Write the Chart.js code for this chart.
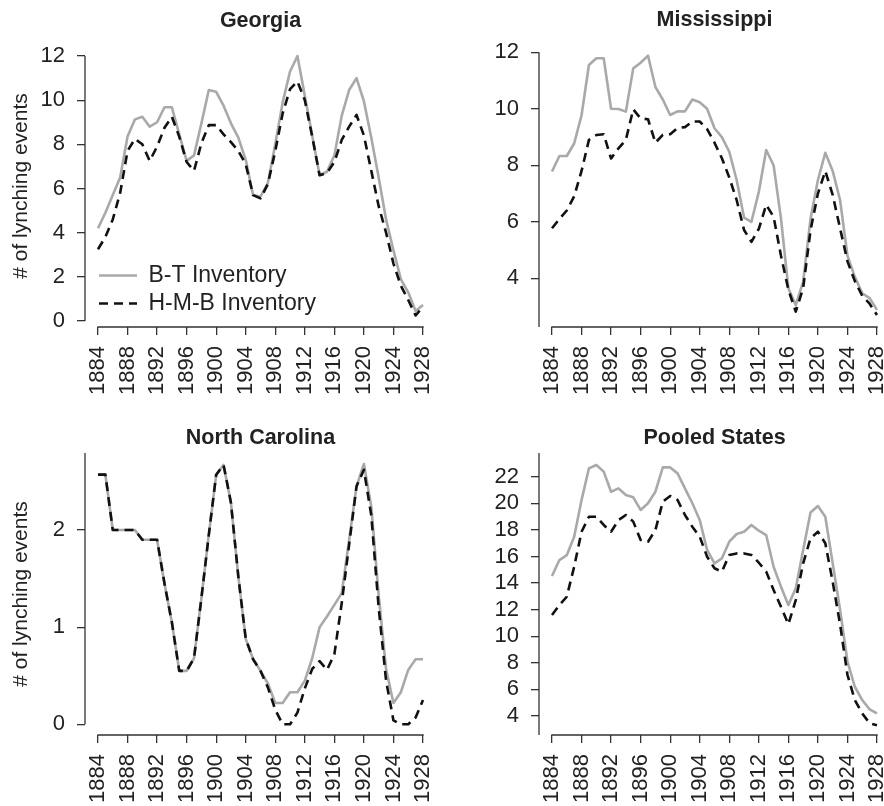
<!DOCTYPE html>
<html><head><meta charset="utf-8">
<script src="https://cdn.jsdelivr.net/npm/chart.js@4.4.1/dist/chart.umd.min.js"></script>
<style>
html,body{margin:0;padding:0;background:#fff;overflow:hidden;width:884px;height:806px}
#wrap{position:relative;width:884px;height:806px;overflow:hidden;background:#fff}
canvas{position:absolute}
</style></head><body><div id="wrap">
<canvas id="ga" width="442" height="403" style="left:0px;top:0px"></canvas>
<canvas id="ms" width="442" height="403" style="left:454px;top:0px"></canvas>
<canvas id="nc" width="442" height="403" style="left:0px;top:408px"></canvas>
<canvas id="ps" width="442" height="403" style="left:454px;top:408px"></canvas>
</div>
<script>
const years = [1884,1885,1886,1887,1888,1889,1890,1891,1892,1893,1894,1895,1896,1897,1898,1899,1900,1901,1902,1903,1904,1905,1906,1907,1908,1909,1910,1911,1912,1913,1914,1915,1916,1917,1918,1919,1920,1921,1922,1923,1924,1925,1926,1927,1928];
const yearTicks = [1884,1888,1892,1896,1900,1904,1908,1912,1916,1920,1924,1928];

const gaBT  = [4.2,4.9,5.7,6.5,8.35,9.13,9.25,8.8,9.0,9.68,9.68,8.45,7.25,7.5,8.95,10.46,10.38,9.75,8.95,8.3,7.3,5.7,5.63,6.25,8.0,9.9,11.3,12.0,10.2,8.4,6.6,6.76,7.5,9.3,10.46,11.0,9.95,8.3,6.5,4.6,3.2,1.9,1.3,0.45,0.72];
const gaHMB = [3.25,3.8,4.6,5.8,7.7,8.25,8.0,7.25,7.9,8.75,9.25,8.35,7.2,6.8,8.05,8.87,8.87,8.45,8.1,7.7,7.1,5.7,5.55,6.2,7.7,9.4,10.5,10.85,10.0,8.35,6.6,6.7,7.2,8.2,8.8,9.33,8.4,6.8,5.2,4.0,2.6,1.6,0.95,0.25,0.65];
const msBT  = [7.78,8.33,8.33,8.77,9.77,11.55,11.79,11.79,10.0,9.99,9.9,11.43,11.63,11.88,10.77,10.33,9.78,9.91,9.91,10.33,10.23,10.0,9.31,9.0,8.48,7.48,6.15,6.0,7.06,8.54,8.0,6.12,3.65,3.05,3.88,6.1,7.48,8.44,7.8,6.77,4.8,4.05,3.47,3.3,2.88];
const msHMB = [5.77,6.1,6.4,6.9,7.8,8.9,9.07,9.1,8.24,8.6,8.9,9.98,9.66,9.63,8.8,9.08,9.1,9.32,9.35,9.55,9.55,9.28,8.8,8.25,7.57,6.77,5.71,5.29,5.75,6.6,6.18,4.8,3.6,2.82,3.65,5.7,7.0,7.8,6.95,5.77,4.6,3.9,3.38,3.1,2.7];
const ncBT  = [2.57,2.57,2.0,2.0,2.0,2.0,1.9,1.9,1.9,1.45,1.05,0.55,0.55,0.68,1.3,1.95,2.57,2.67,2.28,1.52,0.88,0.67,0.55,0.42,0.22,0.22,0.33,0.33,0.45,0.68,1.0,1.11,1.23,1.35,1.9,2.45,2.68,2.24,1.33,0.57,0.22,0.33,0.56,0.67,0.67];
const ncHMB = [2.57,2.57,2.0,2.0,2.0,2.0,1.9,1.9,1.9,1.45,1.05,0.55,0.55,0.68,1.3,1.95,2.57,2.67,2.28,1.52,0.88,0.67,0.55,0.38,0.15,0.0,0.0,0.12,0.37,0.57,0.65,0.56,0.72,1.25,1.85,2.45,2.62,2.15,1.2,0.45,0.04,0.0,0.0,0.07,0.25];
const psBT  = [14.53,15.73,16.1,17.48,20.24,22.63,22.88,22.38,20.87,21.12,20.62,20.45,19.5,20.0,20.87,22.7,22.7,22.25,21.12,20.0,18.75,16.49,15.48,15.86,17.11,17.69,17.86,18.37,17.94,17.61,15.23,13.73,12.35,13.6,16.49,19.3,19.79,18.99,15.5,12.0,8.1,6.2,5.2,4.5,4.2];
const psHMB = [11.6,12.35,12.97,15.23,17.86,18.99,18.99,18.37,17.86,18.74,19.12,18.62,17.24,17.11,17.99,20.12,20.55,20.25,19.12,18.24,17.49,15.98,15.11,14.86,16.11,16.23,16.23,16.11,15.53,14.86,13.48,12.22,10.9,12.72,15.48,17.37,17.86,16.99,14.1,10.9,7.1,5.2,4.2,3.45,3.3];

const gaTicks = [0,2,4,6,8,10,12];
const msTicks = [4,6,8,10,12];
const ncTicks = [0,1,2];
const psTicks = [4,6,8,10,12,14,16,18,20,22];

const seriesLabels = ['B-T Inventory','H-M-B Inventory'];
const yTitleText = '# of lynching events';

const FONT = "'Liberation Sans', Arial, Helvetica, sans-serif";
const TXT = '#222222';
const AX = '#333333';
const GREY = '#a9a9a9';
const BLACK = '#111111';

const axisLines = {
  id: 'axisLines',
  afterDraw(chart, args, opts) {
    if (opts.lo === undefined) return;
    const {ctx, chartArea, scales} = chart;
    const x = scales.x, y = scales.y;
    ctx.save();
    ctx.strokeStyle = AX; ctx.lineWidth = 1.3; ctx.lineCap = 'butt';
    ctx.beginPath();
    const yb = chartArea.bottom;
    ctx.moveTo(x.getPixelForValue(yearTicks[0]) - 0.65, yb);
    ctx.lineTo(x.getPixelForValue(yearTicks[yearTicks.length-1]) + 0.65, yb);
    const xl = chartArea.left;
    ctx.moveTo(xl, y.getPixelForValue(opts.lo));
    ctx.lineTo(xl, y.getPixelForValue(opts.hi));
    ctx.stroke();
    ctx.restore();
  }
};
const boxNudge = {
  id: 'boxNudge',
  afterLayout(chart, args, opts) {
    const t = chart.titleBlock;
    if (t) {
      const c = (chart.chartArea.left + chart.chartArea.right) / 2;
      const w = t.right - t.left;
      t.left = c - w / 2; t.right = c + w / 2;
    }
    const l = chart.legend;
    if (!l || opts.dx === undefined) return;
    l.left += opts.dx; l.right += opts.dx; l.top += opts.dy; l.bottom += opts.dy;
  }
};
Chart.register(axisLines, boxNudge);

function makeChart(id, o) {
  const gridOpt = {display: true, drawOnChartArea: false, drawTicks: true, tickLength: 8, color: AX, lineWidth: 1.3};
  return new Chart(document.getElementById(id), {
    type: 'line',
    data: {
      datasets: [
        {label: seriesLabels[0], data: years.map((yr, i) => ({x: yr, y: o.bt[i]})), borderColor: GREY, backgroundColor: GREY,
         borderWidth: 2.6, pointRadius: 0, tension: 0, order: 1, borderJoinStyle: 'round', borderCapStyle: 'butt'},
        {label: seriesLabels[1], data: years.map((yr, i) => ({x: yr, y: o.hmb[i]})), borderColor: BLACK, backgroundColor: BLACK,
         borderWidth: 2.6, borderDash: [9, 6], pointRadius: 0, tension: 0, order: 0, borderJoinStyle: 'round', borderCapStyle: 'butt'}
      ]
    },
    options: {
      responsive: false, animation: false, devicePixelRatio: 1, events: [],
      layout: {padding: {left: 0, right: 6, top: 0, bottom: 0}},
      plugins: {
        title: {display: true, text: o.title, fullSize: false, color: TXT,
                font: {family: FONT, size: 21.5, weight: 'bold', lineHeight: 1.2},
                padding: {top: o.tp, bottom: 45 - o.tp - 25.8}},
        legend: o.legend ? {
          display: true, position: 'chartArea', align: 'end',
          labels: {
            usePointStyle: true, pointStyle: 'line', pointStyleWidth: 38, padding: 5, color: TXT,
            font: {family: FONT, size: 23},
            generateLabels: chart => chart.data.datasets.map((d, i) => ({
              text: d.label, fillStyle: 'rgba(0,0,0,0)', strokeStyle: d.borderColor, lineWidth: d.borderWidth,
              lineDash: d.borderDash || [], lineCap: 'butt', pointStyle: 'line', fontColor: TXT, hidden: false, datasetIndex: i
            }))
          }
        } : {display: false},
        boxNudge: o.legend ? {dx: 9, dy: 38} : {},
        tooltip: {enabled: false},
        axisLines: {lo: o.lo, hi: o.hi}
      },
      scales: {
        x: {
          type: 'linear', min: 1882.24, max: 1929.76,
          afterBuildTicks: s => { s.ticks = yearTicks.map(v => ({value: v})); },
          afterFit: s => { s.height = 76; s.paddingLeft = 0; s.paddingRight = 0; },
          grid: gridOpt, border: {display: false},
          ticks: {autoSkip: false, minRotation: 90, maxRotation: 90, padding: 11, color: TXT,
                  font: {family: FONT, size: 22}, callback: v => String(v)}
        },
        y: {
          type: 'linear', min: o.yMin, max: o.yMax,
          afterBuildTicks: s => { s.ticks = o.yTicks.map(v => ({value: v})); },
          afterFit: s => { s.width = 85; s.paddingTop = 0; s.paddingBottom = 0; },
          grid: gridOpt, border: {display: false},
          ticks: {autoSkip: false, padding: 12, color: TXT, font: {family: FONT, size: 22}, callback: v => String(v)},
          title: o.yTitle ? {display: true, text: yTitleText, color: TXT, font: {family: FONT, size: 21, lineHeight: 1.2},
                             padding: {top: 9, bottom: 0}} : {display: false}
        }
      }
    }
  });
}

makeChart('ga', {title: 'Georgia', bt: gaBT, hmb: gaHMB, yMin: -0.272, yMax: 12.498, yTicks: gaTicks, lo: 0, hi: 12, tp: 8, legend: true, yTitle: true});
makeChart('ms', {title: 'Mississippi', bt: msBT, hmb: msHMB, yMin: 2.276, yMax: 12.258, yTicks: msTicks, lo: 2.276, hi: 12, tp: 7.5, legend: false, yTitle: false});
makeChart('nc', {title: 'North Carolina', bt: ncBT, hmb: ncHMB, yMin: -0.110, yMax: 2.793, yTicks: ncTicks, lo: 0, hi: 2.793, tp: 17, legend: false, yTitle: true});
makeChart('ps', {title: 'Pooled States', bt: psBT, hmb: psHMB, yMin: 2.571, yMax: 23.783, yTicks: psTicks, lo: 2.571, hi: 23.783, tp: 17, legend: false, yTitle: false});
</script>
</body></html>
